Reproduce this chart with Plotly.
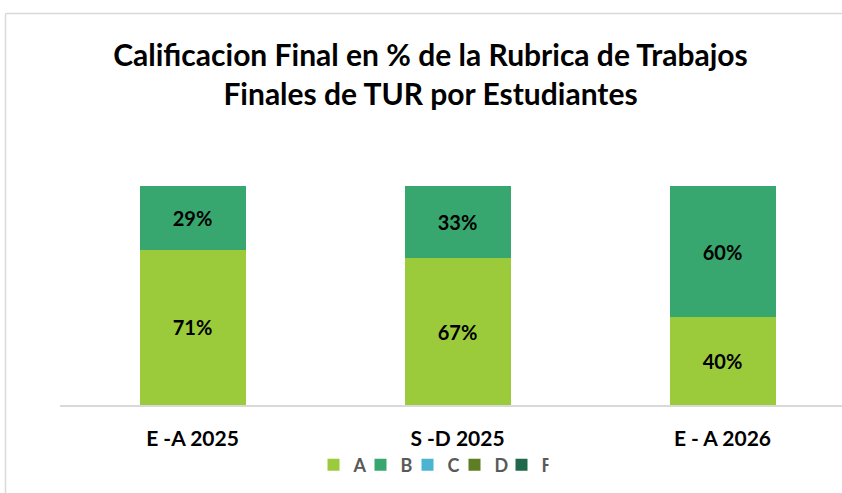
import plotly.graph_objects as go

categories = ["E -A 2025", "S -D 2025", "E - A 2026"]
series_names = ["A", "B", "C", "D", "F"]
val_A = [71, 67, 40]
val_B = [29, 33, 60]
val_C = [0, 0, 0]
val_D = [0, 0, 0]
val_F = [0, 0, 0]
colors = ["#9BCB3B", "#37A76F", "#4BB4D0", "#5F7D22", "#20684A"]
title_text = "Calificacion Final en % de la Rubrica de Trabajos<br>Finales de TUR por Estudiantes"

W, H = 842, 493
L, R, T, B = 60, 0, 186, 88
pw, ph = W - L - R, H - T - B
band = 265.0

fig = go.Figure()
for name, vals, col in zip(series_names, [val_A, val_B, val_C, val_D, val_F], colors):
    texts = [f"{v}%" if v > 0 else "" for v in vals]
    fig.add_trace(go.Bar(
        x=list(range(len(categories))), y=vals, name=name,
        marker=dict(color=col, line=dict(width=0)),
        text=texts, textposition="inside", insidetextanchor="middle",
        textfont=dict(family="Lato", size=20, color="black", weight="bold"),
        width=0.4, hoverinfo="skip",
    ))

xmax = pw / band - 0.5

fig.update_layout(
    width=W, height=H,
    margin=dict(l=L, r=R, t=T, b=B),
    barmode="stack",
    plot_bgcolor="white", paper_bgcolor="white",
    title=dict(text=title_text, x=430.5 / W, xref="container", xanchor="center",
               y=1 - 66 / H, yanchor="middle",
               font=dict(family="Lato", size=30, color="black", weight="bold")),
    xaxis=dict(range=[-0.5, xmax], tickvals=list(range(len(categories))),
               ticktext=categories, showline=True, linecolor="#D9D9D9", linewidth=2,
               showgrid=False, zeroline=False, ticks="", ticklabelstandoff=14,
               tickfont=dict(family="Lato", size=21, color="black", weight="bold")),
    yaxis=dict(range=[0, 100], visible=False, showgrid=False, zeroline=False),
    showlegend=True,
    legend=dict(orientation="h", x=(431 - L) / pw, xanchor="center",
                y=-(465 - (T + ph)) / ph, yanchor="middle",
                font=dict(family="Lato", size=18, color="#595959", weight="bold"),
                itemwidth=30, entrywidth=2, entrywidthmode="pixels",
                traceorder="normal", itemclick=False),
    uniformtext=dict(mode="show", minsize=10),
)

# chart-area border (left and top visible in the crop)
bx = (5.5 - L) / pw
by = 1 + (T - 13.5) / ph
fig.add_shape(type="line", xref="paper", yref="paper", x0=bx, x1=bx, y0=by, y1=-(H - T - ph) / ph - 0.1,
              line=dict(color="#D9D9D9", width=1.5))
fig.add_shape(type="line", xref="paper", yref="paper", x0=bx, x1=1.1, y0=by, y1=by,
              line=dict(color="#D9D9D9", width=1.5))

fig.write_html("out.html", config={"displayModeBar": False},
               post_script="document.body.style.margin='0';document.body.style.overflow='hidden';")
